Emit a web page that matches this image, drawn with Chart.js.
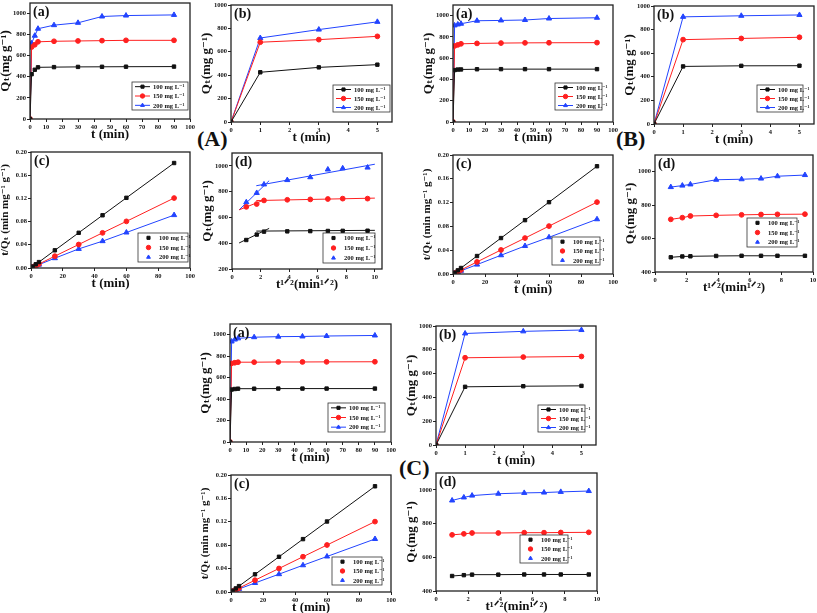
<!DOCTYPE html>
<html>
<head>
<meta charset="utf-8">
<script src="https://cdn.jsdelivr.net/npm/chart.js@4.4.0/dist/chart.umd.min.js"></script>
<style>
body{margin:0;background:#fff;width:817px;height:613px;position:relative;overflow:hidden}
.p{position:absolute}
.grp{position:absolute;font:bold 22px "Liberation Serif",serif;line-height:1;color:#111}
</style>
</head>
<body>
<div class="grp" style="left:197px;top:128px">(A)</div>
<div class="grp" style="left:616px;top:128px">(B)</div>
<div class="grp" style="left:399px;top:457px">(C)</div>
<script>
// time axes
const tAll = [0, 1, 3, 5, 15, 30, 45, 60, 90];
const tLin = [1, 3, 5, 15, 30, 45, 60, 90];
const tSqrt = [1, 1.73, 2.24, 3.87, 5.48, 6.71, 7.75, 9.49];
const concLabels = ['100 mg L⁻¹', '150 mg L⁻¹', '200 mg L⁻¹'];

// (A) Qt, mg/g
const qA100 = [0, 425, 467, 490, 492, 494, 495, 496, 497];
const qA150 = [0, 682, 704, 732, 737, 740, 743, 746, 746];
const qA200 = [0, 718, 790, 856, 890, 912, 972, 981, 987];
// (A) t/Qt
const tqA100 = [0.0024, 0.0064, 0.0102, 0.0305, 0.0607, 0.0909, 0.121, 0.181];
const tqA150 = [0.0015, 0.0043, 0.0068, 0.0204, 0.0405, 0.0606, 0.0804, 0.1206];
const tqA200 = [0.0014, 0.0038, 0.0058, 0.0169, 0.0329, 0.0463, 0.0612, 0.0912];
// (A) intra-particle diffusion fit segments [x, y]
const fitA100 = [[[0.5, 402], [2.6, 515]], [[1.7, 494], [10, 500]]];
const fitA150 = [[[0.5, 659], [2.3, 738]], [[1.7, 731], [10, 750]]];
const fitA200 = [[[0.5, 659], [2.6, 885]], [[1.7, 846], [10, 1013]]];

// (B)
const qB100 = [0, 488, 493, 494, 496, 497, 497, 497, 497];
const qB150 = [0, 715, 725, 735, 739, 742, 744, 745, 746];
const qB200 = [0, 908, 917, 924, 952, 955, 959, 973, 980];
const tqB100 = [0.0021, 0.0061, 0.0101, 0.0302, 0.0604, 0.0905, 0.1207, 0.1811];
const tqB150 = [0.0014, 0.0041, 0.0068, 0.0203, 0.0404, 0.0604, 0.0805, 0.1208];
const tqB200 = [0.0011, 0.0033, 0.0054, 0.0158, 0.0315, 0.0471, 0.0617, 0.0920];

// (C)
const qC100 = [0, 489, 494, 497, 497, 498, 498, 498, 498];
const qC150 = [0, 733, 739, 744, 744, 746, 746, 747, 748];
const qC200 = [0, 937, 955, 966, 977, 982, 984, 988, 993];
const tqC100 = [0.0020, 0.0061, 0.0101, 0.0302, 0.0602, 0.0904, 0.1205, 0.1807];
const tqC150 = [0.0014, 0.0041, 0.0067, 0.0202, 0.0402, 0.0603, 0.0803, 0.1203];
const tqC200 = [0.0011, 0.0031, 0.0052, 0.0154, 0.0305, 0.0457, 0.0607, 0.0906];

const FONT = '"Liberation Serif", "DejaVu Serif", serif';
const COLORS = ['#111111', '#ff2020', '#2244ff'];
const SHAPES = ['rect', 'circle', 'triangle'];
const PAD_L = 32, PAD_T = 4, PAD_R = 9, PAD_B = 27;

const Q_TITLE = 'Qₜ(mg g⁻¹)';
const TQ_TITLE = 't/Qₜ (min mg⁻¹ g⁻¹)';
const T_TITLE = 't (min)';
const SQ_TITLE = 't¹ᐟ²(min¹ᐟ²)';

function series(xs, ys, i, showLine) {
  return {
    label: concLabels[i],
    data: xs.map((x, k) => ({ x: x, y: ys[k] })),
    borderColor: COLORS[i], backgroundColor: COLORS[i],
    pointStyle: SHAPES[i], pointRadius: SHAPES[i] === 'triangle' ? 3 : 2.4,
    borderWidth: 1, showLine: showLine
  };
}

function fitLines(segs, i) {
  return segs.map(s => ({
    label: '', data: s.map(p => ({ x: p[0], y: p[1] })),
    borderColor: COLORS[i], borderWidth: 1, pointRadius: 0, showLine: true
  }));
}

function drawMark(ctx, style, x, y, r) {
  if (Chart.helpers && Chart.helpers.drawPoint) {
    Chart.helpers.drawPoint(ctx, { pointStyle: style, radius: r, rotation: 0, borderWidth: 1 }, x, y);
  }
}

const deco = {
  id: 'deco',
  afterDraw(chart, args, o) {
    const ctx = chart.ctx, a = chart.chartArea;
    ctx.save();
    ctx.strokeStyle = '#222';
    ctx.lineWidth = 1.3;
    ctx.strokeRect(a.left, a.top, a.right - a.left, a.bottom - a.top);
    ctx.fillStyle = '#111';
    ctx.font = 'bold 14px ' + FONT;
    ctx.textBaseline = 'top';
    ctx.fillText(o.letter, a.left + 3, a.top + 2);
    // legend box
    const lg = o.legend;
    const x0 = a.right - lg.dr - lg.w, y0 = a.bottom - lg.db - lg.h;
    ctx.fillStyle = '#fff';
    ctx.fillRect(x0, y0, lg.w, lg.h);
    ctx.lineWidth = 0.8;
    ctx.strokeStyle = '#333';
    ctx.strokeRect(x0, y0, lg.w, lg.h);
    ctx.font = 'bold 6.5px ' + FONT;
    ctx.textBaseline = 'middle';
    for (let i = 0; i < 3; i++) {
      const ds = chart.data.datasets[i];
      const cy = y0 + (i + 0.5) * lg.h / 3;
      ctx.strokeStyle = COLORS[i];
      ctx.fillStyle = COLORS[i];
      ctx.lineWidth = 1;
      if (lg.line) {
        ctx.beginPath();
        ctx.moveTo(x0 + 3, cy);
        ctx.lineTo(x0 + 18, cy);
        ctx.stroke();
      }
      drawMark(ctx, ds.pointStyle, x0 + 10.5, cy, 2.2);
      ctx.fillStyle = '#111';
      ctx.fillText(concLabels[i], x0 + 21, cy + 0.5);
    }
    ctx.restore();
  }
};

function axis(rng, title, isX, fixed) {
  return {
    type: 'linear', min: rng[0], max: rng[1],
    ticks: {
      stepSize: rng[2], includeBounds: false, padding: 1, color: '#111',
      font: { family: FONT, size: 6.5, weight: 'bold' },
      callback: v => fixed ? v.toFixed(fixed) : String(Math.round(v * 100) / 100)
    },
    grid: { drawOnChartArea: false, drawTicks: true, tickLength: 3, color: '#222' },
    border: { display: false },
    title: {
      display: true, text: title, color: '#111',
      font: { family: FONT, size: title === TQ_TITLE ? 11 : 13, weight: 'bold' },
      padding: { top: 0, bottom: title === TQ_TITLE ? 6 : 4 }
    },
    afterFit(s) {
      if (isX) s.height = PAD_B; else s.width = PAD_L;
      s.paddingLeft = 0; s.paddingRight = 0; s.paddingTop = 0; s.paddingBottom = 0;
    }
  };
}

function panel(rect, letter, xr, yr, xTitle, yTitle, yFixed, datasets, legend) {
  const w = rect[2] - rect[0] + PAD_L + PAD_R;
  const h = rect[3] - rect[1] + PAD_T + PAD_B;
  const div = document.createElement('div');
  div.className = 'p';
  div.style.left = (rect[0] - PAD_L) + 'px';
  div.style.top = (rect[1] - PAD_T) + 'px';
  const cv = document.createElement('canvas');
  cv.width = w; cv.height = h;
  cv.style.width = w + 'px'; cv.style.height = h + 'px';
  div.appendChild(cv);
  document.body.appendChild(div);
  new Chart(cv, {
    type: 'scatter',
    data: { datasets: datasets },
    options: {
      responsive: false, animation: false, events: [],
      layout: { padding: { left: 0, top: PAD_T, right: PAD_R, bottom: 0 } },
      plugins: { legend: { display: false }, tooltip: { enabled: false }, deco: { letter: letter, legend: legend } },
      scales: { x: axis(xr, xTitle, true, 0), y: axis(yr, yTitle, false, yFixed) }
    },
    plugins: [deco]
  });
}

function setQ(q100, q150, q200, n) {
  return [q100, q150, q200].map((q, i) => series(tAll.slice(0, n), q.slice(0, n), i, true));
}
function setTQ(a, b, c) {
  return [a, b, c].map((q, i) => series(tLin, q, i, true));
}
function setSqrt(q100, q150, q200, line) {
  return [q100, q150, q200].map((q, i) => series(tSqrt, q.slice(1), i, line));
}

// (A)
panel([30, 2, 190, 119], '(a)', [0, 100, 10], [0, 1100, 200], T_TITLE, Q_TITLE, 0,
  setQ(qA100, qA150, qA200, 9), { dr: 2, db: 9, w: 56, h: 28, line: true });
panel([231, 4, 392, 122], '(b)', [0, 5.5, 1], [0, 1000, 200], T_TITLE, Q_TITLE, 0,
  setQ(qA100, qA150, qA200, 4), { dr: 2, db: 10, w: 57, h: 27, line: true });
panel([31, 151, 190, 268], '(c)', [0, 100, 20], [0, 0.2, 0.04], T_TITLE, TQ_TITLE, 2,
  setTQ(tqA100, tqA150, tqA200), { dr: 2, db: 6, w: 50, h: 29, line: false });
panel([232, 152, 382, 269], '(d)', [0, 10.5, 2], [200, 1100, 200], SQ_TITLE, Q_TITLE, 0,
  setSqrt(qA100, qA150, qA200, false).concat(fitLines(fitA100, 0), fitLines(fitA150, 1), fitLines(fitA200, 2)),
  { dr: 7, db: 6, w: 52, h: 30, line: false });

// (B)
panel([453, 4, 613, 122], '(a)', [0, 100, 10], [0, 1100, 200], T_TITLE, Q_TITLE, 0,
  setQ(qB100, qB150, qB200, 9), { dr: 11, db: 12, w: 47, h: 27, line: true });
panel([654, 5, 814, 124], '(b)', [0, 5.5, 1], [0, 1000, 200], T_TITLE, Q_TITLE, 0,
  setQ(qB100, qB150, qB200, 4), { dr: 11, db: 12, w: 46, h: 27, line: true });
panel([453, 154, 613, 274], '(c)', [0, 100, 20], [0, 0.2, 0.04], T_TITLE, TQ_TITLE, 2,
  setTQ(tqB100, tqB150, tqB200), { dr: 13, db: 9, w: 48, h: 28, line: false });
panel([655, 154, 813, 272], '(d)', [0, 10, 2], [400, 1100, 200], SQ_TITLE, Q_TITLE, 0,
  setSqrt(qB100, qB150, qB200, true), { dr: 16, db: 25, w: 50, h: 29, line: false });

// (C)
panel([230, 323, 391, 442], '(a)', [0, 100, 10], [0, 1100, 200], T_TITLE, Q_TITLE, 0,
  setQ(qC100, qC150, qC200, 9), { dr: 6, db: 10, w: 57, h: 29, line: true });
panel([436, 325, 596, 445], '(b)', [0, 5.5, 1], [0, 1000, 200], T_TITLE, Q_TITLE, 0,
  setQ(qC100, qC150, qC200, 4), { dr: 11, db: 13, w: 47, h: 27, line: true });
panel([231, 474, 391, 592], '(c)', [0, 100, 20], [0, 0.2, 0.04], T_TITLE, TQ_TITLE, 2,
  setTQ(tqC100, tqC150, tqC200), { dr: 9, db: 7, w: 50, h: 28, line: false });
panel([436, 472, 597, 591], '(d)', [0, 10, 2], [400, 1100, 200], SQ_TITLE, Q_TITLE, 0,
  setSqrt(qC100, qC150, qC200, true), { dr: 29, db: 28, w: 48, h: 28, line: false });
</script>
</body>
</html>
